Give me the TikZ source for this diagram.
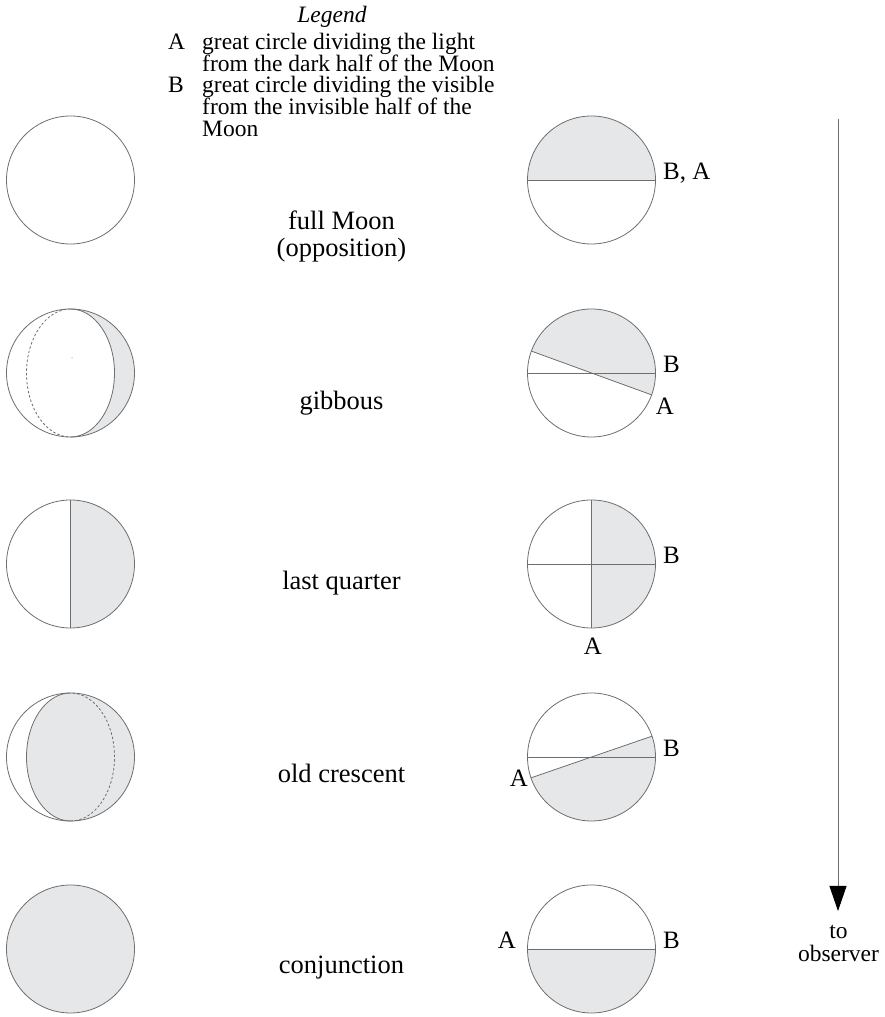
\documentclass[tikz,border=0pt]{standalone}
\usepackage{fontspec}
\setmainfont{Liberation Serif}
\usetikzlibrary{arrows.meta,calc}
\definecolor{moonfill}{HTML}{E6E7E9}
\definecolor{moonline}{HTML}{6E6E6E}
\begin{document}
\begin{tikzpicture}[x=1pt,y=1pt,
  rim/.style={draw=moonline, line width=0.8pt},
  lit/.style={fill=moonfill},
  hidden/.style={draw=moonline, line width=0.8pt, dash pattern=on 2.5pt off 2pt},
  phase/.style={font=\fontsize{26.5}{27}\selectfont, inner sep=0pt, align=center},
  circlabel/.style={font=\fontsize{25}{27}\selectfont, inner sep=0pt},
  legendtext/.style={font=\fontsize{23.5}{21.7}\selectfont, inner sep=0pt, align=left}]
\useasboundingbox (0,0) rectangle (884,1017);
\def\R{64}

% centres of the two columns of moons
\coordinate (L1) at (70.5,837); \coordinate (R1) at (591.5,837);
\coordinate (L2) at (70.5,644); \coordinate (R2) at (591.5,644);
\coordinate (L3) at (70.5,453); \coordinate (R3) at (591.5,453);
\coordinate (L4) at (70.5,260); \coordinate (R4) at (591.5,260);
\coordinate (L5) at (70.5,68);  \coordinate (R5) at (591.5,68);

% legend (multi-line nodes sit on the baseline of their last line)
\node[font=\fontsize{23.5}{25}\selectfont\itshape, inner sep=0pt, anchor=base] (legend) at (332,994) {Legend};
\node[legendtext, anchor=base west] (keyA) at (168,967) {A};
\node[legendtext, anchor=base west] (textA) at (202,945.3) {great circle dividing the light\\from the dark half of the Moon};
\node[legendtext, anchor=base west] (keyB) at (168,924) {B};
\node[legendtext, anchor=base west] (textB) at (202,880.6) {great circle dividing the visible\\from the invisible half of the\\Moon};

% --- left column: the Moon as seen ---
% full Moon
\draw[rim] (L1) circle[radius=\R];
% gibbous
\fill[lit] ($(L2)+(0,\R)$) arc[start angle=90, end angle=-90, radius=\R]
  arc[start angle=-90, end angle=90, x radius=44, y radius=\R];
\draw[rim] (L2) circle[radius=\R];
\draw[rim] ($(L2)+(0,-\R)$) arc[start angle=-90, end angle=90, x radius=44, y radius=\R];
\draw[hidden] ($(L2)+(0,\R)$) arc[start angle=90, end angle=270, x radius=44, y radius=\R];
\fill[moonline] (72,659) circle[radius=0.5];
% last quarter
\fill[lit] ($(L3)+(0,-\R)$) arc[start angle=-90, end angle=90, radius=\R] -- cycle;
\draw[rim] (L3) circle[radius=\R];
\draw[rim] ($(L3)+(0,\R)$) -- ($(L3)+(0,-\R)$);
% old crescent
\fill[lit] ($(L4)+(0,\R)$) arc[start angle=90, end angle=270, x radius=44, y radius=\R]
  arc[start angle=-90, end angle=90, radius=\R];
\draw[rim] (L4) circle[radius=\R];
\draw[rim] ($(L4)+(0,\R)$) arc[start angle=90, end angle=270, x radius=44, y radius=\R];
\draw[hidden] ($(L4)+(0,-\R)$) arc[start angle=-90, end angle=90, x radius=44, y radius=\R];
% conjunction
\draw[rim, lit] (L5) circle[radius=\R];

% --- right column: the two great circles seen edge-on ---
% full Moon
\fill[lit] ($(R1)+(\R,0)$) arc[start angle=0, end angle=180, radius=\R] -- cycle;
\draw[rim] (R1) circle[radius=\R];
\draw[rim] ($(R1)+(-\R,0)$) -- ($(R1)+(\R,0)$);
% gibbous
\fill[lit] ($(R2)+(-20:\R)$) arc[start angle=-20, end angle=160, radius=\R] -- cycle;
\draw[rim] (R2) circle[radius=\R];
\draw[rim] ($(R2)+(-\R,0)$) -- ($(R2)+(\R,0)$);
\draw[rim] ($(R2)+(160:\R)$) -- ($(R2)+(-20:\R)$);
% last quarter
\fill[lit] ($(R3)+(0,-\R)$) arc[start angle=-90, end angle=90, radius=\R] -- cycle;
\draw[rim] (R3) circle[radius=\R];
\draw[rim] ($(R3)+(-\R,0)$) -- ($(R3)+(\R,0)$);
\draw[rim] ($(R3)+(0,\R)$) -- ($(R3)+(0,-\R)$);
% old crescent
\fill[lit] ($(R4)+(199:\R)$) arc[start angle=199, end angle=379, radius=\R] -- cycle;
\draw[rim] (R4) circle[radius=\R];
\draw[rim] ($(R4)+(-\R,0)$) -- ($(R4)+(\R,0)$);
\draw[rim] ($(R4)+(199:\R)$) -- ($(R4)+(19:\R)$);
% conjunction
\fill[lit] ($(R5)+(-\R,0)$) arc[start angle=180, end angle=360, radius=\R] -- cycle;
\draw[rim] (R5) circle[radius=\R];
\draw[rim] ($(R5)+(-\R,0)$) -- ($(R5)+(\R,0)$);

% circle labels
\node[circlabel, anchor=base west] (ba1) at (663,837) {B, A};
\node[circlabel, anchor=base west] (b2) at (663,644) {B};
\node[circlabel] (a2) at (665,611) {A};
\node[circlabel, anchor=base west] (b3) at (663,453) {B};
\node[circlabel] (a3) at (593,371) {A};
\node[circlabel, anchor=base west] (b4) at (663,260) {B};
\node[circlabel] (a4) at (519,239) {A};
\node[circlabel, anchor=base west] (b5) at (663,68) {B};
\node[circlabel, anchor=base east] (a5) at (516,68) {A};

% phase names
\node[phase] (full) at (341.5,780.5) {full Moon\\(opposition)};
\node[phase] (gib) at (341.5,614) {gibbous};
\node[phase] (lq) at (341.5,434) {last quarter};
\node[phase] (oc) at (341.5,244) {old crescent};
\node[phase] (conj) at (341.5,49) {conjunction};

% direction towards the observer
\coordinate (arrtop) at (838,898);
\coordinate (arrtip) at (838,106);
\draw[draw=moonline, line width=0.8pt, -{Triangle[length=25pt, width=17pt, color=black]}] (arrtop) -- (arrtip);
\node[font=\fontsize{23.5}{23}\selectfont, inner sep=0pt, align=center] (obs) at (838.5,73.5) {to\\observer};
\end{tikzpicture}
\end{document}
